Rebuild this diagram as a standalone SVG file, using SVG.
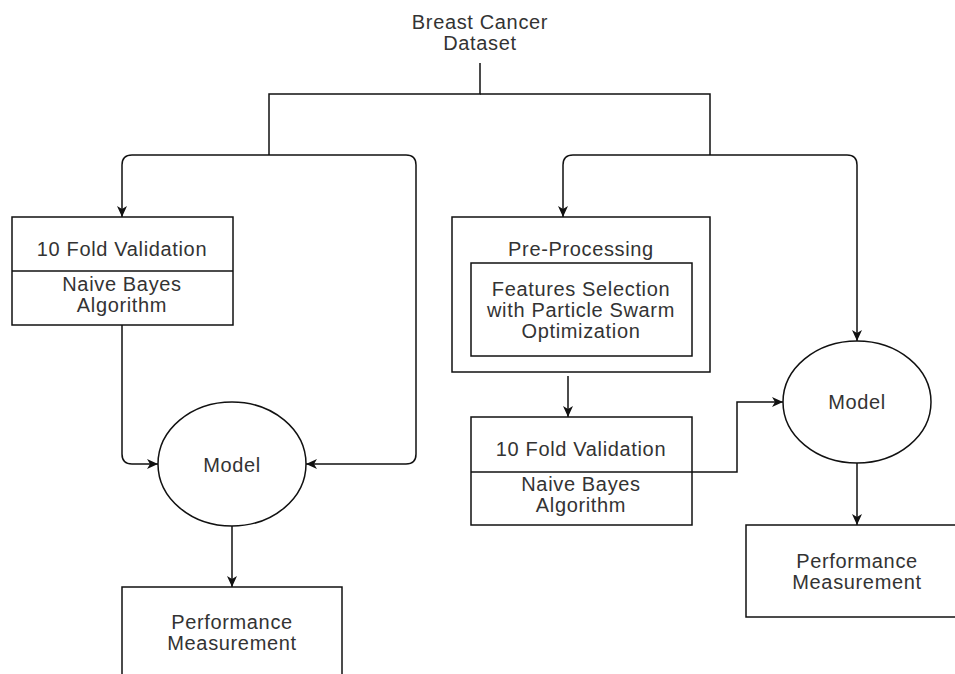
<svg xmlns="http://www.w3.org/2000/svg" width="955" height="674" viewBox="0 0 955 674">
<style>
.t{font-family:"Liberation Sans",Arial,sans-serif;font-size:20px;letter-spacing:0.65px;fill:#333;text-anchor:middle}
.box{fill:#fff;stroke:#111;stroke-width:1.5}
.c{fill:none;stroke:#111;stroke-width:1.5}
</style>
<defs>
<marker id="arr" viewBox="0 0 11 11" refX="11" refY="5.5" markerWidth="11" markerHeight="11" markerUnits="userSpaceOnUse" orient="auto">
<path d="M0,0.5 L11,5.5 L0,10.5 L3,5.5 Z" fill="#111"/>
</marker>
</defs>
<rect width="955" height="674" fill="#fff"/>
<g id="connectors">
<path class="c" d="M480,63 V94 H269 V155"/>
<path class="c" d="M480,94 H710 V155"/>
<path class="c" d="M269,155 H132 Q122,155 122,165 V217" marker-end="url(#arr)"/>
<path class="c" d="M269,155 H406 Q416,155 416,165 V454 Q416,464 406,464 H306" marker-end="url(#arr)"/>
<path class="c" d="M122,325 V454 Q122,464 132,464 H158" marker-end="url(#arr)"/>
<path class="c" d="M232,526 V587" marker-end="url(#arr)"/>
<path class="c" d="M710,155 H573 Q563,155 563,165 V217" marker-end="url(#arr)"/>
<path class="c" d="M710,155 H847 Q857,155 857,165 V341" marker-end="url(#arr)"/>
<path class="c" d="M568,376 V417" marker-end="url(#arr)"/>
<path class="c" d="M692,472 H737 V402 H783" marker-end="url(#arr)"/>
<path class="c" d="M857,463 V525" marker-end="url(#arr)"/>
</g>
<g id="dataset">
<text class="t" x="480" y="29">Breast Cancer</text>
<text class="t" x="480" y="50">Dataset</text>
</g>
<g id="left-validation">
<rect class="box" x="12" y="217" width="221" height="108"/>
<line class="c" x1="12" y1="271" x2="233" y2="271"/>
<text class="t" x="122" y="256">10 Fold Validation</text>
<text class="t" x="122" y="291">Naive Bayes</text>
<text class="t" x="122" y="312">Algorithm</text>
</g>
<g id="left-model">
<ellipse class="box" cx="232" cy="464" rx="74" ry="62"/>
<text class="t" x="232" y="472">Model</text>
</g>
<g id="left-performance">
<rect class="box" x="122" y="587" width="220" height="100"/>
<text class="t" x="232" y="629">Performance</text>
<text class="t" x="232" y="650">Measurement</text>
</g>
<g id="preprocessing">
<rect class="box" x="452" y="217" width="258" height="155"/>
<text class="t" x="581" y="256">Pre-Processing</text>
</g>
<g id="feature-selection">
<rect class="box" x="471" y="263" width="221" height="93"/>
<text class="t" x="581" y="296">Features Selection</text>
<text class="t" x="581" y="317">with Particle Swarm</text>
<text class="t" x="581" y="338">Optimization</text>
</g>
<g id="right-validation">
<rect class="box" x="471" y="417" width="221" height="108"/>
<line class="c" x1="471" y1="472" x2="692" y2="472"/>
<text class="t" x="581" y="456">10 Fold Validation</text>
<text class="t" x="581" y="491">Naive Bayes</text>
<text class="t" x="581" y="512">Algorithm</text>
</g>
<g id="right-model">
<ellipse class="box" cx="857" cy="402" rx="74" ry="61"/>
<text class="t" x="857" y="409">Model</text>
</g>
<g id="right-performance">
<rect class="box" x="746" y="525" width="222" height="92"/>
<text class="t" x="857" y="568">Performance</text>
<text class="t" x="857" y="589">Measurement</text>
</g>
</svg>
